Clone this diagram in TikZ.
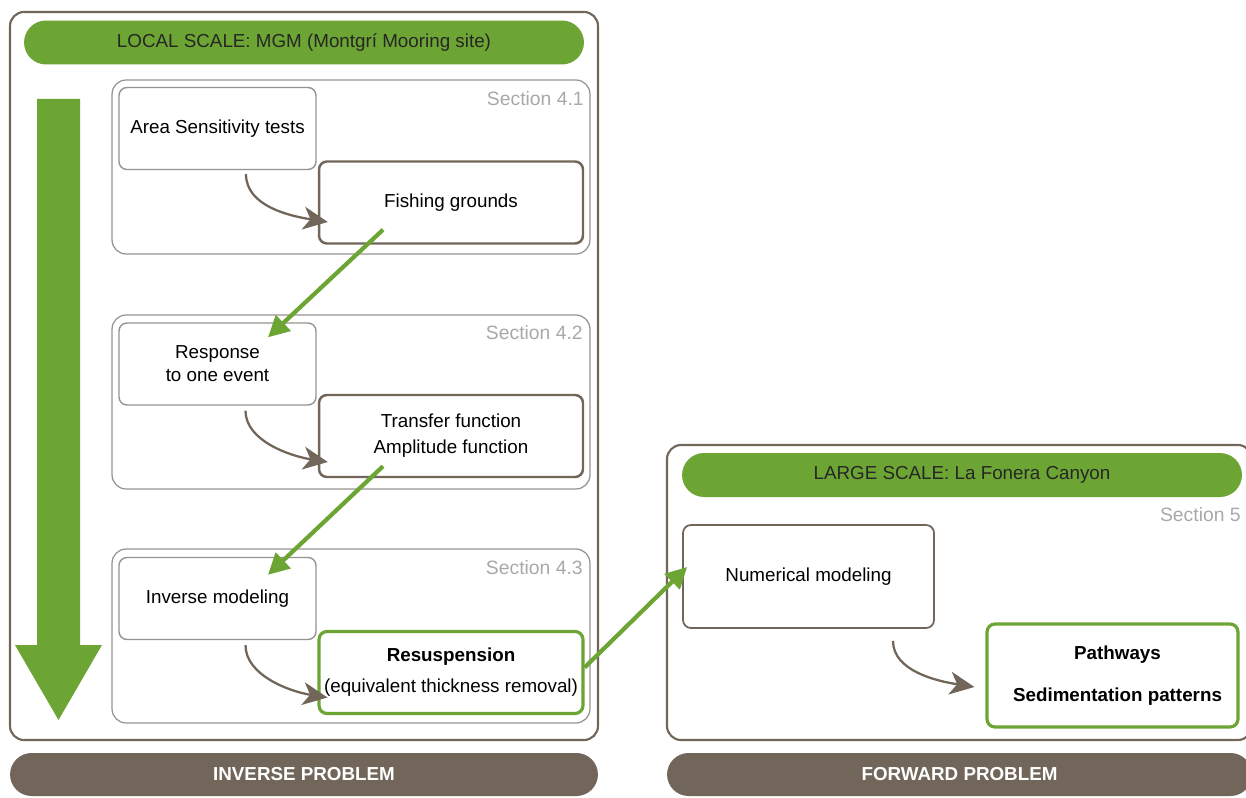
\documentclass[tikz,border=0pt]{standalone}
\usepackage{fontspec}
\setmainfont{Liberation Sans}
\usetikzlibrary{arrows.meta,positioning}

% Colores
\definecolor{verde}{RGB}{109,165,52}
\definecolor{marron}{RGB}{114,102,90}
\definecolor{gris}{RGB}{150,146,142}
\definecolor{grisclaro}{RGB}{168,168,168}

\tikzset{
  caja/.style={draw=gris, line width=0.8pt, rounded corners=4.5pt, minimum width=3.94cm, minimum height=1.64cm, align=center, inner sep=1pt, font=\fontsize{10.7}{13}\selectfont},
  cajafin/.style={caja, draw=marron, line width=1.4pt, minimum width=5.28cm},
  cajaverde/.style={cajafin, draw=verde, line width=1.8pt},
  seccion/.style={draw=gris, line width=0.7pt, rounded corners=8pt, minimum width=9.56cm, minimum height=3.48cm},
  marco/.style={draw=marron, line width=1.2pt, rounded corners=8pt},
  barra/.style={fill=verde, rounded corners=0.44cm, minimum width=11.2cm, minimum height=0.88cm, text=black!85, font=\fontsize{10.7}{13}\selectfont},
  barraproblema/.style={fill=marron, rounded corners=0.43cm, minimum height=0.86cm, text=white, font=\bfseries\fontsize{10.7}{13}\selectfont},
  etiqueta/.style={text=grisclaro, anchor=east, inner sep=0pt, font=\fontsize{11}{13}\selectfont},
  flechaverde/.style={verde, line width=2.4pt, -{Triangle[length=12pt,width=12pt]}},
  flechacurva/.style={marron, line width=1.3pt, -{Stealth[length=14pt,width=13pt,inset=4pt]}},
}

\begin{document}
\begin{tikzpicture}[x=0.02cm,y=-0.02cm]
  \clip (0,0) rectangle (1246,797); % tamano del dibujo

  % Escala local (izquierda)
  \draw[marco] (10,12) rectangle (598,740);
  \node[barra] (local) at (304,42.5) {LOCAL SCALE: MGM (Montgrí Mooring site)};
  \fill[verde] (37,99) -- (80,99) -- (80,645) -- (102,645) -- (58.5,720) -- (15,645) -- (37,645) -- cycle; % flecha hacia abajo

  % Secciones 4.1, 4.2 y 4.3
  \node[seccion] (sec1) at (351,167) {};
  \node[seccion] (sec2) at (351,402) {};
  \node[seccion] (sec3) at (351,636) {};
  \node[etiqueta] (lab1) at (584,99) {Section 4.1};
  \node[etiqueta] (lab2) at (583,333) {Section 4.2};
  \node[etiqueta] (lab3) at (583,568) {Section 4.3};

  % Cajas de cada seccion
  \node[caja] (area) at (217.5,128.5) {Area Sensitivity tests};
  \node[cajafin] (fish) at (451,202.5) {Fishing grounds};
  \node[caja] (resp) at (217.5,364) {Response\\to one event};
  \node[cajafin] (transf) at (451,436) {Transfer function\\[1.7pt]Amplitude function};
  \node[caja] (inv) at (217.5,598.5) {Inverse modeling};
  \node[cajaverde] (resus) at (451,672.5) {\textbf{Resuspension}\\[4.5pt](equivalent thickness removal)};

  % Escala grande (derecha)
  \draw[marco] (667,445) rectangle (1252,740);
  \node[barra] (large) at (962,475) {LARGE SCALE: La Fonera Canyon};
  \node[etiqueta] (lab5) at (1241,515) {Section 5};
  \node[caja, draw=marron, line width=1pt, minimum width=5.02cm, minimum height=2.06cm] (num) at (808.5,576.5) {Numerical modeling};
  \node[cajaverde, minimum width=5.02cm, minimum height=2.06cm, font=\bfseries\fontsize{10.7}{13}\selectfont] (path) at (1112.5,675.5) {\hspace{0.2cm}Pathways\\[11pt]\hspace{0.2cm}Sedimentation patterns};

  % Barras inferiores
  \node[barraproblema, minimum width=11.76cm] (inverse) at (304,774.5) {INVERSE PROBLEM};
  \node[barraproblema, minimum width=11.7cm] (forward) at (959.5,774.5) {FORWARD PROBLEM};

  % Flechas curvas dentro de cada seccion
  \draw[flechacurva] ([xshift=0.57cm,yshift=-0.08cm]area.south) .. controls +(0,32) and +(-38,-6) .. ([xshift=0.2cm,yshift=-0.39cm]fish.west);
  \draw[flechacurva] ([xshift=0.56cm,yshift=-0.1cm]resp.south) .. controls +(0,30) and +(-38,-6) .. ([xshift=0.2cm,yshift=-0.52cm]transf.west);
  \draw[flechacurva] ([xshift=0.56cm,yshift=-0.1cm]inv.south) .. controls +(0,30) and +(-38,-6) .. ([xshift=0.2cm,yshift=-0.5cm]resus.west);
  \draw[flechacurva] ([xshift=1.69cm,yshift=-0.24cm]num.south) .. controls +(0,30) and +(-38,-6) .. ([xshift=-0.22cm,yshift=-0.23cm]path.west);

  % Flechas verdes entre secciones
  \draw[flechaverde] ([xshift=-1.36cm,yshift=0.3cm]fish.south) -- ([xshift=1.01cm,yshift=-0.3cm]resp.north);
  \draw[flechaverde] ([xshift=-1.36cm,yshift=0.24cm]transf.south) -- ([xshift=1.01cm,yshift=-0.36cm]inv.north);
  \draw[flechaverde] ([yshift=0.1cm]resus.east) -- ([xshift=0.1cm,yshift=0.19cm]num.west);
\end{tikzpicture}
\end{document}
